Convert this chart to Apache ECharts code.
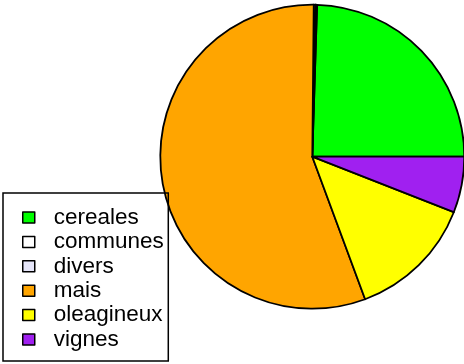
<!DOCTYPE html>
<html>
<head>
<meta charset="utf-8">
<script src="https://cdn.jsdelivr.net/npm/echarts@6/dist/echarts.min.js"></script>
<style>
  html, body { margin: 0; padding: 0; background: #fff; }
  #chart { width: 464px; height: 364px; }
</style>
</head>
<body>
<div id="chart"></div>
<script>
// Land use shares (percent of total surface)
const categories = ['cereales', 'communes', 'divers', 'mais', 'oleagineux', 'vignes'];
const shares = [24.5, 0.15, 0.2, 55.8, 13.4, 5.95];
const colors = ['#00ff00', '#ffffff', '#e6e6fa', '#ffa500', '#ffff00', '#a020f0'];

const chart = echarts.init(document.getElementById('chart'), null, { renderer: 'canvas' });

chart.setOption({
  animation: false,
  backgroundColor: '#ffffff',
  color: colors,
  legend: {
    orient: 'vertical',
    left: 3,
    top: 193,
    height: 200,
    padding: [13, 4.5, 10, 19],
    itemGap: 1.4,
    itemWidth: 12,
    itemHeight: 11,
    icon: 'rect',
    selectedMode: false,
    borderColor: '#000',
    borderWidth: 1.5,
    backgroundColor: 'transparent',
    itemStyle: { borderColor: '#000', borderWidth: 1.5 },
    textStyle: {
      fontFamily: 'Liberation Sans, Arial, sans-serif',
      fontSize: 22.5,
      lineHeight: 22,
      color: '#000',
      padding: [0, 0, 0, 14]
    },
    data: categories
  },
  series: [{
    type: 'pie',
    center: [312.3, 156.7],
    radius: 152,
    startAngle: 0,
    clockwise: false,
    minAngle: 0,
    avoidLabelOverlap: false,
    label: { show: false },
    labelLine: { show: false },
    emphasis: { disabled: true },
    itemStyle: { borderColor: '#000', borderWidth: 1.8 },
    data: categories.map((name, i) => ({ name, value: shares[i] }))
  }]
});
</script>
</body>
</html>
